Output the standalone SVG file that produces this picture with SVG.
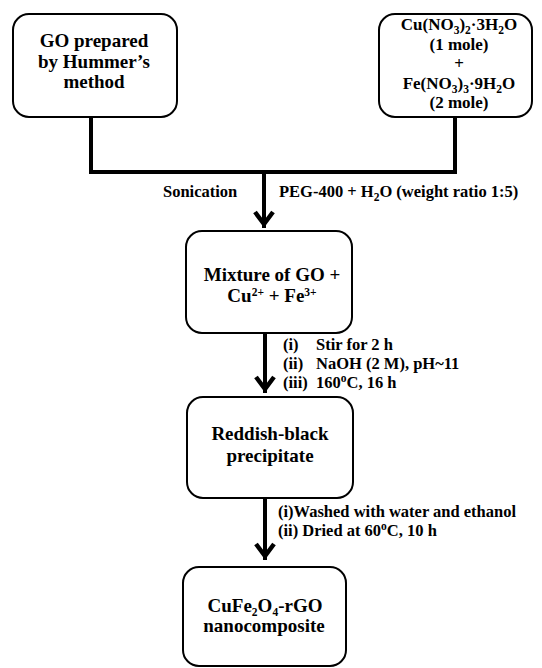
<svg xmlns="http://www.w3.org/2000/svg" width="542" height="668" viewBox="0 0 542 668">
<style>
  .box { fill: #ffffff; stroke: #000000; stroke-width: 2; }
  .t { font-family: "Liberation Serif", "Times New Roman", serif; font-weight: bold; fill: #000000; }
  .n { font-size: 19px; text-anchor: middle; }
  .r { font-size: 17px; text-anchor: middle; }
  .l { font-size: 16.5px; }
  .sub { font-size: 11.5px; baseline-shift: -4px; }
  .sup { font-size: 11.5px; baseline-shift: 6px; }
  .conn { fill: none; stroke: #000000; stroke-width: 4; stroke-linejoin: miter; stroke-linecap: butt; }
</style>
<defs>
  <marker id="chev" markerUnits="userSpaceOnUse" markerWidth="30" markerHeight="30" viewBox="-20 -15 30 30" refX="0" refY="0" orient="auto">
    <path d="M-16,-9 L-4,0 L-16,9" fill="none" stroke="#000000" stroke-width="4.5" stroke-linejoin="miter" stroke-miterlimit="10"/>
  </marker>
</defs>
<rect width="542" height="668" fill="#ffffff"/>

<g id="connectors">
  <path class="conn" d="M91,117 V172 H455 V117"/>
  <path class="conn" d="M264,172 V228" marker-end="url(#chev)"/>
  <path class="conn" d="M265,333 V393" marker-end="url(#chev)"/>
  <path class="conn" d="M265,498 V560" marker-end="url(#chev)"/>
</g>

<g id="node-go">
  <rect class="box" x="13" y="14" width="164" height="103" rx="16"/>
  <text class="t n" x="94" y="47">GO prepared</text>
  <text class="t n" x="94" y="68">by Hummer’s</text>
  <text class="t n" x="94" y="88">method</text>
</g>

<g id="node-salts">
  <rect class="box" x="379" y="14" width="153" height="103" rx="16"/>
  <text class="t r" x="459" y="30">Cu(NO<tspan class="sub">3</tspan>)<tspan class="sub">2</tspan>·3H<tspan class="sub">2</tspan>O</text>
  <text class="t r" x="459" y="50">(1 mole)</text>
  <text class="t r" x="459" y="69">+</text>
  <text class="t r" x="459" y="89">Fe(NO<tspan class="sub">3</tspan>)<tspan class="sub">3</tspan>·9H<tspan class="sub">2</tspan>O</text>
  <text class="t r" x="459" y="108">(2 mole)</text>
</g>

<g id="label-sonication">
  <text class="t l" x="163" y="197">Sonication</text>
  <text class="t l" x="279" y="197">PEG-400 + H<tspan class="sub">2</tspan>O (weight ratio 1:5)</text>
</g>

<g id="node-mixture">
  <rect class="box" x="186" y="231" width="166" height="102" rx="16"/>
  <text class="t n" x="272" y="281">Mixture of GO +</text>
  <text class="t n" x="272" y="302">Cu<tspan class="sup">2+</tspan> + Fe<tspan class="sup">3+</tspan></text>
</g>

<g id="label-step2">
  <text class="t l" x="283" y="350">(i)</text>
  <text class="t l" x="316" y="350">Stir for 2 h</text>
  <text class="t l" x="283" y="369">(ii)</text>
  <text class="t l" x="316" y="369">NaOH (2 M), pH~11</text>
  <text class="t l" x="283" y="388">(iii)</text>
  <text class="t l" x="316" y="388">160<tspan class="sup">o</tspan>C, 16 h</text>
</g>

<g id="node-precipitate">
  <rect class="box" x="187" y="397" width="166" height="101" rx="16"/>
  <text class="t n" x="270" y="440">Reddish-black</text>
  <text class="t n" x="270" y="462">precipitate</text>
</g>

<g id="label-step3">
  <text class="t l" x="278" y="517">(i)Washed with water and ethanol</text>
  <text class="t l" x="278" y="536">(ii) Dried at 60<tspan class="sup">o</tspan>C, 10 h</text>
</g>

<g id="node-product">
  <rect class="box" x="183" y="567" width="163" height="99" rx="16"/>
  <text class="t n" x="265" y="612">CuFe<tspan class="sub">2</tspan>O<tspan class="sub">4</tspan>-rGO</text>
  <text class="t n" x="264" y="632">nanocomposite</text>
</g>
</svg>
